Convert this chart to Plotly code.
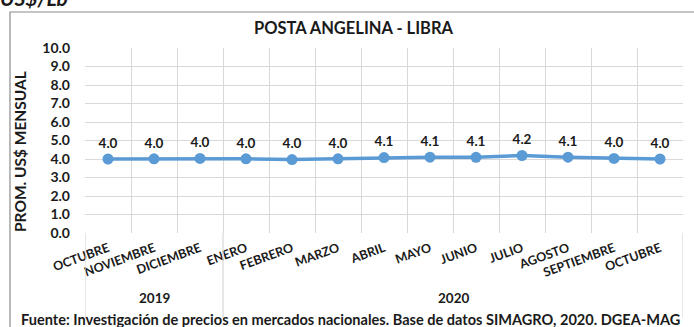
import plotly.graph_objects as go

# Monthly average price, US$ per pound
months = ["OCTUBRE", "NOVIEMBRE", "DICIEMBRE", "ENERO", "FEBRERO", "MARZO", "ABRIL",
          "MAYO", "JUNIO", "JULIO", "AGOSTO", "SEPTIEMBRE", "OCTUBRE"]
years = ["2019", "2020"]
months_per_year = [3, 10]
prices = [4.00, 4.01, 4.03, 4.01, 3.97, 4.01, 4.08, 4.10, 4.09, 4.19, 4.10, 4.03, 4.00]
y_ticks = [0, 1, 2, 3, 4, 5, 6, 7, 8, 9, 10]

W, H = 694, 327
FONT = "Lato"
DARK = "#1a1a1a"
GRID = "#d9d9d9"
LINE = "#5b9bd5"


def px(y):
    """Convert a pixel row (from top) into paper units."""
    return 1 - y / H


x_pos = list(range(len(months)))
plot_top, plot_bottom = 48, 233

fig = go.Figure()
fig.add_trace(go.Scatter(
    x=x_pos, y=prices,
    mode="lines+markers+text",
    line=dict(color=LINE, width=3.5),
    marker=dict(color=LINE, size=11),
    text=[f"{v:.1f}" for v in prices],
    textposition="top center",
    textfont=dict(family=FONT, size=13.5, color=DARK, weight="bold"),
    cliponaxis=False,
    hoverinfo="skip",
))

# group boundaries (year dividers) on the category axis
bounds = [-0.5]
for n in months_per_year:
    bounds.append(bounds[-1] + n)

shapes = []
for b in bounds:
    shapes.append(dict(type="line", xref="x", yref="paper", x0=b, x1=b,
                       y0=px(plot_bottom), y1=px(318),
                       line=dict(color=GRID, width=1.2)))
# outer chart frame
shapes.append(dict(type="rect", xref="paper", yref="paper",
                   x0=10 / W, x1=1.02, y0=-0.05, y1=px(12),
                   line=dict(color="#8c8c8c", width=1.2), fillcolor="rgba(0,0,0,0)"))

annotations = []
for i, yr in enumerate(years):
    annotations.append(dict(x=(bounds[i] + bounds[i + 1]) / 2, xref="x",
                            y=px(298), yref="paper", text=yr, showarrow=False,
                            xanchor="center", yanchor="middle",
                            font=dict(family=FONT, size=13.5, color=DARK, weight="bold")))
annotations.append(dict(x=350 / W, y=px(319.5), xref="paper", yref="paper",
                        text="Fuente: Investigación de precios en mercados nacionales. Base de datos SIMAGRO, 2020. DGEA-MAG",
                        showarrow=False, xanchor="center", yanchor="middle",
                        font=dict(family=FONT, size=14.55, color=DARK, weight="bold")))
annotations.append(dict(x=354 / W, y=px(28), xref="paper", yref="paper",
                        text="POSTA ANGELINA - LIBRA", showarrow=False,
                        xanchor="center", yanchor="middle",
                        font=dict(family=FONT, size=16.5, color=DARK, weight="bold")))
annotations.append(dict(x=-2 / W, y=px(-2), xref="paper", yref="paper",
                        text="<i>US$/Lb</i>", showarrow=False,
                        xanchor="left", yanchor="middle",
                        font=dict(family=FONT, size=21, color=DARK, weight="bold")))
annotations.append(dict(x=20 / W, y=px(152), xref="paper",
                        yref="paper", text="PROM. US$ MENSUAL", showarrow=False,
                        textangle=-90, xanchor="center", yanchor="middle",
                        font=dict(family=FONT, size=15.5, color=DARK, weight="bold")))

fig.update_layout(
    width=W, height=H,
    margin=dict(l=0, r=0, t=0, b=0),
    paper_bgcolor="white", plot_bgcolor="white",
    showlegend=False,
    shapes=shapes,
    annotations=annotations,
    xaxis=dict(
        domain=[85 / W, 683 / W],
        range=[-0.5, len(months) - 0.5],
        tickmode="array", tickvals=x_pos, ticktext=months,
        tickangle=-20, ticks="", showgrid=False, zeroline=False,
        automargin=False, ticklabelstandoff=5,
        tickfont=dict(family=FONT, size=12.5, color=DARK, weight="bold"),
        minor=dict(tickmode="array", tickvals=bounds[:1] + [i + 0.5 for i in x_pos],
                   showgrid=True, gridcolor=GRID, gridwidth=1.2, ticks=""),
        fixedrange=True,
    ),
    yaxis=dict(
        domain=[px(plot_bottom), px(plot_top)],
        range=[0, 10],
        tickmode="array", tickvals=y_ticks,
        ticktext=[f"{v:.1f}" for v in y_ticks],
        showgrid=True, gridcolor=GRID, gridwidth=1.2,
        zeroline=False, ticks="", ticklabelstandoff=14,
        automargin=False,
        tickfont=dict(family=FONT, size=14, color=DARK, weight="bold"),
        showline=False,
        fixedrange=True,
    ),
)

fig.write_html("out.html")
